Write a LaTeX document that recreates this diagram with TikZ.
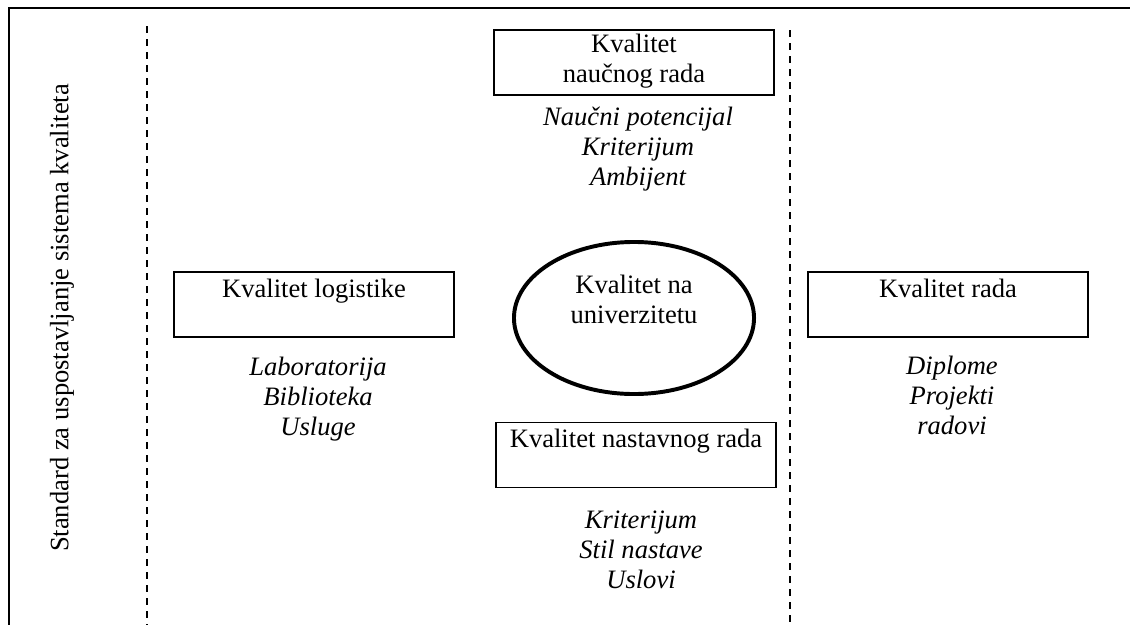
\documentclass[tikz,border=0pt]{standalone}
\usepackage{fontspec}
\setmainfont{Liberation Serif}
\usepackage{tikz}
\usetikzlibrary{shapes.geometric}

\begin{document}
\begin{tikzpicture}[x=0.025cm, y=-0.025cm,
    txt/.style={font=\fontsize{18.9}{21.3}\selectfont, align=center, inner sep=0pt},
    items/.style={txt, font=\fontsize{18.9}{21.3}\selectfont\itshape},
    boxed/.style={draw, line width=1.2pt, minimum width=7cm, minimum height=1.625cm, inner sep=0pt},
    sep/.style={dashed, dash pattern=on 5pt off 4.25pt, line width=1.1pt}]
    \useasboundingbox (0,0) rectangle (1130,625);

    % Frame (top and left edge)
    \draw[line width=2pt] (1130,8) -- (9,8) -- (9,625);

    % Standard on the left side
    \node[txt, rotate=90] (standard) at (62,318) {Standard za uspostavljanje sistema kvaliteta};

    % Dashed separators
    \draw[sep] (147,26) -- (147,625);
    \draw[sep] (790,30) -- (790,625);

    % Centre ellipse
    \node[ellipse, draw, line width=2.8pt, minimum width=6cm, minimum height=3.8cm] (univ) at (634,318) {};
    \node[txt, anchor=base] (univtxt) at (634,323) {Kvalitet na\\univerzitetu};

    % Top: scientific work
    \node[boxed] (naucni) at (634,62.5) {};
    \node[txt, anchor=base] (naucnitxt) at (634,82) {Kvalitet\\naučnog rada};
    \node[items, anchor=base] (naucniitems) at (638,185) {Naučni potencijal\\Kriterijum\\Ambijent};

    % Left: logistics
    \node[boxed] (logistika) at (314,304.5) {};
    \node[txt, anchor=base] (logistikatxt) at (314,297) {Kvalitet logistike};
    \node[items, anchor=base] (logistikaitems) at (318,435) {Laboratorija\\Biblioteka\\Usluge};

    % Right: work
    \node[boxed] (rad) at (948,304.5) {};
    \node[txt, anchor=base] (radtxt) at (948,297) {Kvalitet rada};
    \node[items, anchor=base] (raditems) at (952,434) {Diplome\\Projekti\\radovi};

    % Bottom: teaching
    \node[boxed] (nastava) at (636,455) {};
    \node[txt, anchor=base] (nastavatxt) at (636,447) {Kvalitet nastavnog rada};
    \node[items, anchor=base] (nastavaitems) at (641,588) {Kriterijum\\Stil nastave\\Uslovi};
\end{tikzpicture}
\end{document}
